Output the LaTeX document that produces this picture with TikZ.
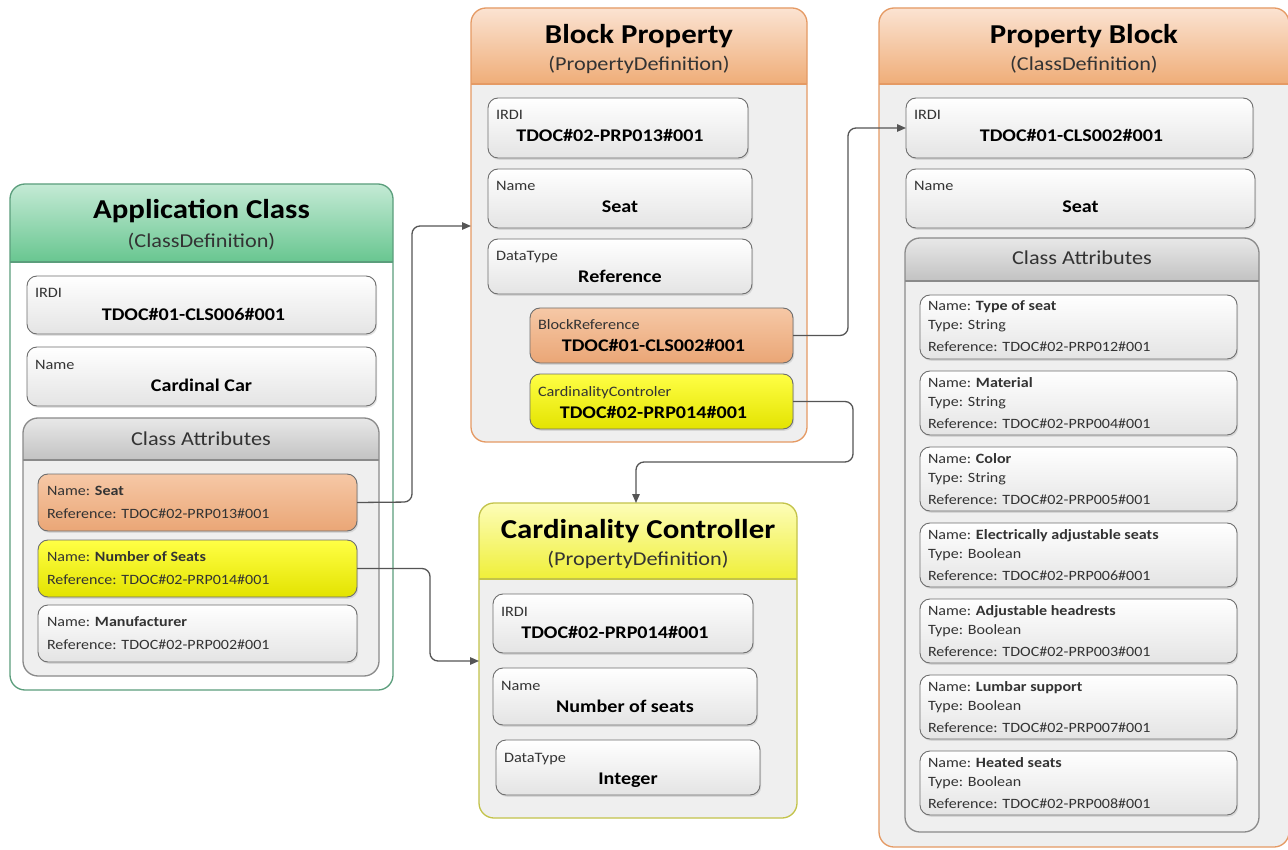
\documentclass[tikz,border=0pt]{standalone}
\usepackage{fontspec}
\setmainfont{Carlito}[FakeStretch=1.13]
\usetikzlibrary{arrows.meta,shadows}

% colour schemes of the panels: border, body, header top, header bottom
\definecolor{greenbord}{HTML}{5B9E7C}
\definecolor{greenbody}{HTML}{FFFFFF}
\definecolor{greentop}{HTML}{C4EAD5}
\definecolor{greenbot}{HTML}{68C690}
\definecolor{orgbord}{HTML}{E59A64}
\definecolor{orgbody}{HTML}{EFEFEF}
\definecolor{orgtop}{HTML}{FBE3D2}
\definecolor{orgbot}{HTML}{EFAD78}
\definecolor{yelbord}{HTML}{C3C34A}
\definecolor{yelbody}{HTML}{EFEFEF}
\definecolor{yeltop}{HTML}{FDFDB8}
\definecolor{yelbot}{HTML}{EFEF38}
\definecolor{cabord}{HTML}{8A8A8A}
\definecolor{cabody}{HTML}{EFEFEF}
\definecolor{catop}{HTML}{E8E8E8}
\definecolor{cabot}{HTML}{C2C2C2}
% field boxes
\definecolor{fldbord}{HTML}{6E6E6E}
\definecolor{fldbot}{HTML}{E4E4E4}
\definecolor{ofldtop}{HTML}{F6C8A6}
\definecolor{ofldbot}{HTML}{EAA676}
\definecolor{yfldtop}{HTML}{FFFF45}
\definecolor{yfldbot}{HTML}{E3E300}
\definecolor{lblcol}{HTML}{333333}
\definecolor{conncol}{HTML}{555555}

\tikzset{
  every node/.style={inner sep=0pt, outer sep=0pt},
  panelbase/.style={line width=1.3pt, rounded corners=15pt, anchor=north west},
  field/.style={draw=fldbord, line width=0.9pt, rounded corners=10pt,
    anchor=north west, top color=white, bottom color=fldbot,
    drop shadow={opacity=0.22, shadow xshift=1.2pt, shadow yshift=-1.8pt}},
  ofield/.style={field, top color=ofldtop, bottom color=ofldbot},
  yfield/.style={field, top color=yfldtop, bottom color=yfldbot},
  ttl/.style={anchor=base, font=\fontsize{27.3}{30}\selectfont\bfseries, text=black},
  sub/.style={anchor=base, font=\fontsize{19.7}{22}\selectfont, text=lblcol},
  cahead/.style={anchor=base, font=\fontsize{19.7}{22}\selectfont, text=lblcol},
  lbl/.style={anchor=base west, font=\fontsize{14.4}{16}\selectfont, text=lblcol},
  val/.style={anchor=base, font=\fontsize{17.8}{20}\selectfont\bfseries, text=black},
  attr/.style={anchor=base west, font=\fontsize{14.2}{16}\selectfont, text=lblcol},
  conn/.style={draw=conncol, line width=1.3pt, rounded corners=8pt,
    -{Triangle[length=9pt,width=7.5pt]}},
}

% panel with a shaded header band
% #1 name, #2 x, #3 y, #4 width, #5 height, #6 header height, #7 colour scheme
\newcommand\panelbox[7]{%
  \node[panelbase, fill=#7body, minimum width=#4, minimum height=#5] (#1) at (#2,#3) {};
  \begin{scope}
    \clip[rounded corners=15pt] (#1.north west) rectangle (#1.south east);
    \shade[top color=#7top, bottom color=#7bot]
      (#1.north west) rectangle ([shift={(0,#6)}]#1.north east);
  \end{scope}
  \draw[#7bord, line width=1.1pt]
    ([shift={(0,#6)}]#1.north west) -- ([shift={(0,#6)}]#1.north east);
  \draw[#7bord, line width=1.3pt, rounded corners=15pt]
    (#1.north west) rectangle (#1.south east);
}
% field box with a small label and a bold value
% #1 name, #2 style, #3 x, #4 y, #5 width, #6 height, #7 label, #8 value, #9 value shift
\newcommand\fieldbox[9]{%
  \node[#2, minimum width=#5, minimum height=#6] (#1) at (#3,#4) {};
  \node[lbl] (#1-l) at ([shift={(8,22)}]#1.north west) {#7};
  \node[val] (#1-v) at ([shift={(#9,44)}]#1.north) {#8};
}
% three-line attribute of the property block
% #1 name, #2 top, #3 attribute name, #4 type, #5 reference
\newcommand\pbattr[5]{%
  \node[field, minimum width=317, minimum height=64] (#1) at (920,#2) {};
  \node[attr] (#1-n) at ([shift={(8,16)}]#1.north west) {Name: \textbf{#3}};
  \node[attr] (#1-t) at ([shift={(8,35)}]#1.north west) {Type: #4};
  \node[attr] (#1-r) at ([shift={(8,57)}]#1.north west) {Reference: #5};
}
% two-line attribute of the application class
% #1 name, #2 style, #3 top, #4 attribute name, #5 reference
\newcommand\acattr[5]{%
  \node[#2, minimum width=319, minimum height=57] (#1) at (38,#3) {};
  \node[attr] (#1-n) at ([shift={(9,21)}]#1.north west) {Name: \textbf{#4}};
  \node[attr] (#1-r) at ([shift={(9,44)}]#1.north west) {Reference: #5};
}

\begin{document}
\begin{tikzpicture}[x=1pt,y=-1pt]
\useasboundingbox (0,0) rectangle (1288,850);
\fill[white] (0,0) rectangle (1288,850);

% ---------------- Application Class ----------------
\panelbox{app}{10}{184}{383}{506}{78}{green}
\node[ttl] (app-t) at ([shift={(0,35)}]app.north) {Application Class};
\node[sub] (app-s) at ([shift={(0,64)}]app.north) {(ClassDefinition)};

\fieldbox{ac-irdi}{field}{27}{276}{349}{58}{IRDI}{TDOC\#01-CLS006\#001}{-8}
\fieldbox{ac-name}{field}{27}{347}{349}{59}{Name}{Cardinal Car}{0}

\panelbox{ac-ca}{23}{418}{356}{258}{42}{ca}
\node[cahead] (ac-ca-t) at ([shift={(0,27)}]ac-ca.north) {Class Attributes};

\acattr{as-seat}{ofield}{474}{Seat}{TDOC\#02-PRP013\#001}
\acattr{as-num}{yfield}{540}{Number of Seats}{TDOC\#02-PRP014\#001}
\acattr{as-man}{field}{605}{Manufacturer}{TDOC\#02-PRP002\#001}

% ---------------- Block Property ----------------
\panelbox{bp}{471}{8}{336}{434}{76}{org}
\node[ttl] (bp-t) at ([shift={(0,36)}]bp.north) {Block Property};
\node[sub] (bp-s) at ([shift={(0,63)}]bp.north) {(PropertyDefinition)};

\fieldbox{bp-irdi}{field}{488}{98}{260}{60}{IRDI}{TDOC\#02-PRP013\#001}{-8}
\fieldbox{bp-name}{field}{488}{169}{264}{59}{Name}{Seat}{0}
\fieldbox{bp-type}{field}{488}{239}{264}{55}{DataType}{Reference}{0}
\fieldbox{bp-bref}{ofield}{530}{308}{263}{55}{BlockReference}{TDOC\#01-CLS002\#001}{-8}
\fieldbox{bp-card}{yfield}{530}{374}{263}{55}{CardinalityControler}{TDOC\#02-PRP014\#001}{-8}

% ---------------- Cardinality Controller ----------------
\panelbox{cc}{479}{503}{318}{315}{76}{yel}
\node[ttl] (cc-t) at ([shift={(0,35)}]cc.north) {Cardinality Controller};
\node[sub] (cc-s) at ([shift={(0,62)}]cc.north) {(PropertyDefinition)};

\fieldbox{cc-irdi}{field}{493}{594}{260}{59}{IRDI}{TDOC\#02-PRP014\#001}{-8}
\fieldbox{cc-name}{field}{493}{668}{264}{57}{Name}{Number of seats}{0}
\fieldbox{cc-type}{field}{496}{740}{264}{55}{DataType}{Integer}{0}

% ---------------- Property Block ----------------
\panelbox{pb}{879}{8}{410}{839}{76}{org}
\node[ttl] (pb-t) at (1084,44) {Property Block};
\node[sub] (pb-s) at (1084,71) {(ClassDefinition)};

\fieldbox{pb-irdi}{field}{906}{98}{347}{60}{IRDI}{TDOC\#01-CLS002\#001}{-8}
\fieldbox{pb-name}{field}{906}{169}{349}{59}{Name}{Seat}{0}

\panelbox{pb-ca}{905}{238}{354}{594}{43}{ca}
\node[cahead] (pb-ca-t) at ([shift={(0,27)}]pb-ca.north) {Class Attributes};

\pbattr{pa1}{295}{Type of seat}{String}{TDOC\#02-PRP012\#001}
\pbattr{pa2}{371}{Material}{String}{TDOC\#02-PRP004\#001}
\pbattr{pa3}{447}{Color}{String}{TDOC\#02-PRP005\#001}
\pbattr{pa4}{523}{Electrically adjustable seats}{Boolean}{TDOC\#02-PRP006\#001}
\pbattr{pa5}{599}{Adjustable headrests}{Boolean}{TDOC\#02-PRP003\#001}
\pbattr{pa6}{675}{Lumbar support}{Boolean}{TDOC\#02-PRP007\#001}
\pbattr{pa7}{751}{Heated seats}{Boolean}{TDOC\#02-PRP008\#001}

% ---------------- connectors ----------------
\coordinate (k1a) at (412,502);
\coordinate (k1b) at (412,226);
\draw[conn] (as-seat.east) -- (k1a) -- (k1b) -- (k1b -| bp.west);

\coordinate (k2a) at (430,568.5);
\coordinate (k2b) at (430,661);
\draw[conn] (as-num.east) -- (k2a) -- (k2b) -- (k2b -| cc.west);

\coordinate (k3a) at (848,335.5);
\coordinate (k3b) at (848,128);
\draw[conn] (bp-bref.east) -- (k3a) -- (k3b) -- (pb-irdi.west);

\coordinate (k4a) at (853,401.5);
\coordinate (k4b) at (853,462);
\coordinate (k4c) at (636,462);
\draw[conn] (bp-card.east) -- (k4a) -- (k4b) -- (k4c) -- (k4c |- cc.north);

\end{tikzpicture}
\end{document}
